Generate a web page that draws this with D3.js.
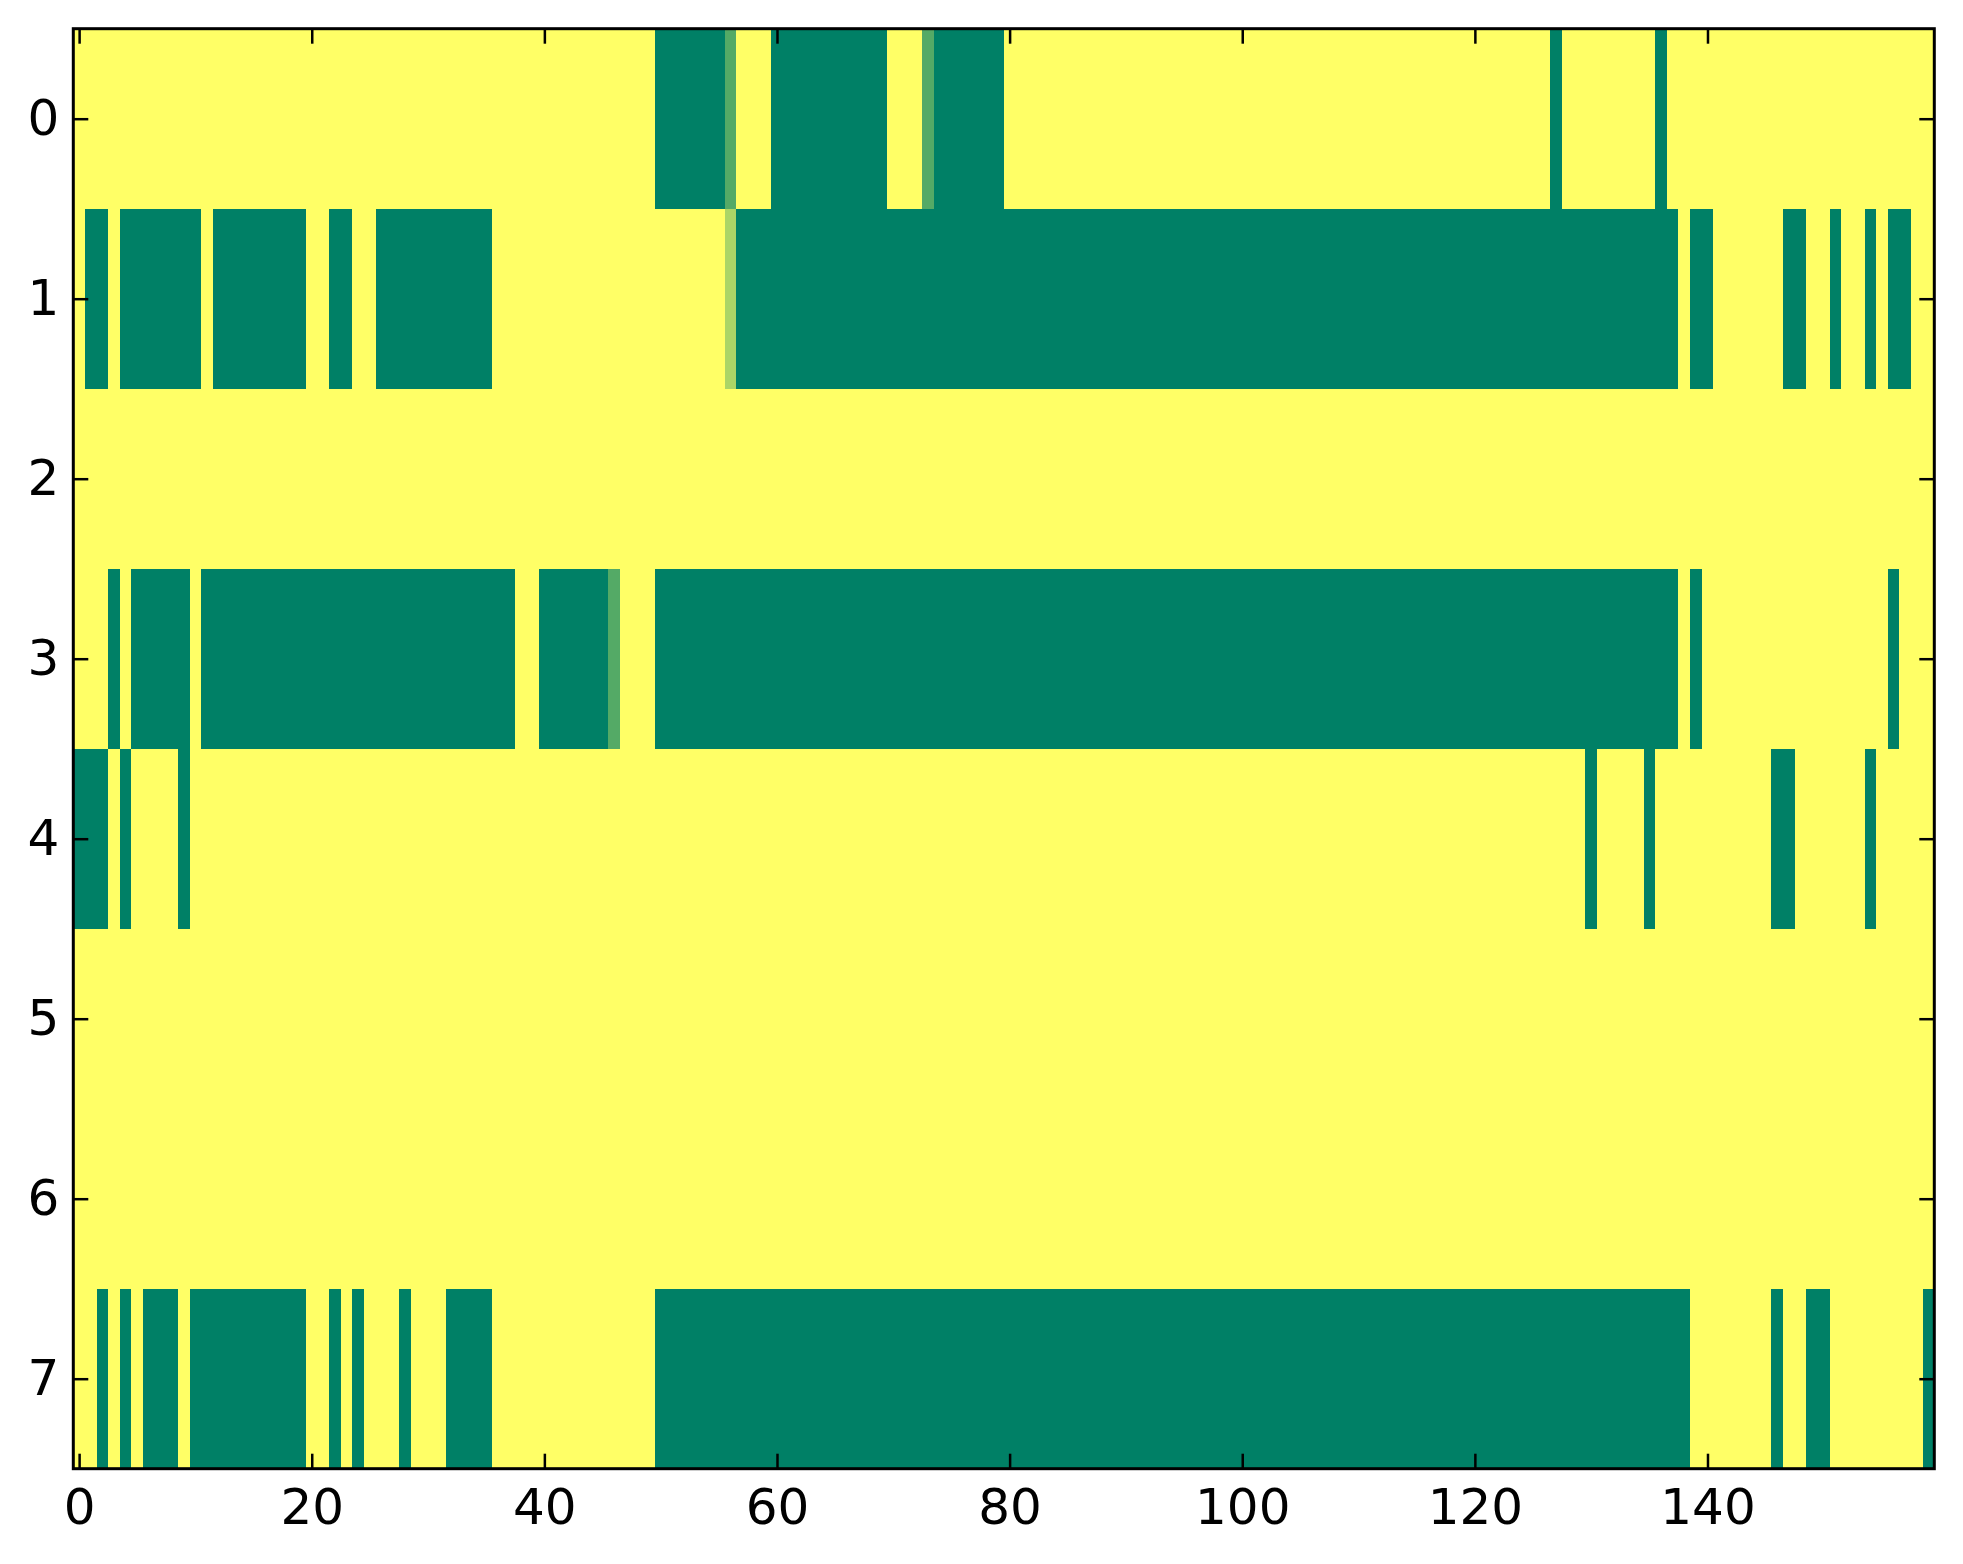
<!DOCTYPE html>
<html>
<head>
<meta charset="utf-8">
<script src="https://cdn.jsdelivr.net/npm/d3@7"></script>
<style>
  body { margin: 0; background: #fff; }
  .axis text { font-family: "DejaVu Sans", sans-serif; font-size: 50px; fill: #000; }
  .axis line { stroke: #000; stroke-width: 2.5; }
</style>
</head>
<body>
<div id="chart"></div>
<script>
// Data: one array per image row, 160 columns, 1 = yellow end, 0 = green end
const row0 = [
  1,1,1,1,1,1,1,1,1,1,1,1,1,1,1,1,1,1,1,1,
  1,1,1,1,1,1,1,1,1,1,1,1,1,1,1,1,1,1,1,1,
  1,1,1,1,1,1,1,1,1,1,0,0,0,0,0,0,0.33,1,1,1,
  0,0,0,0,0,0,0,0,0,0,1,1,1,0.33,0,0,0,0,0,0,
  1,1,1,1,1,1,1,1,1,1,1,1,1,1,1,1,1,1,1,1,
  1,1,1,1,1,1,1,1,1,1,1,1,1,1,1,1,1,1,1,1,
  1,1,1,1,1,1,1,0,1,1,1,1,1,1,1,1,0,1,1,1,
  1,1,1,1,1,1,1,1,1,1,1,1,1,1,1,1,1,1,1,1
];
const row1 = [
  1,0,0,1,0,0,0,0,0,0,0,1,0,0,0,0,0,0,0,0,
  1,1,0,0,1,1,0,0,0,0,0,0,0,0,0,0,1,1,1,1,
  1,1,1,1,1,1,1,1,1,1,1,1,1,1,1,1,0.67,0,0,0,
  0,0,0,0,0,0,0,0,0,0,0,0,0,0,0,0,0,0,0,0,
  0,0,0,0,0,0,0,0,0,0,0,0,0,0,0,0,0,0,0,0,
  0,0,0,0,0,0,0,0,0,0,0,0,0,0,0,0,0,0,0,0,
  0,0,0,0,0,0,0,0,0,0,0,0,0,0,0,0,0,0,1,0,
  0,1,1,1,1,1,1,0,0,1,1,0,1,1,0,1,0,0,1,1
];
const row2 = [
  1,1,1,1,1,1,1,1,1,1,1,1,1,1,1,1,1,1,1,1,
  1,1,1,1,1,1,1,1,1,1,1,1,1,1,1,1,1,1,1,1,
  1,1,1,1,1,1,1,1,1,1,1,1,1,1,1,1,1,1,1,1,
  1,1,1,1,1,1,1,1,1,1,1,1,1,1,1,1,1,1,1,1,
  1,1,1,1,1,1,1,1,1,1,1,1,1,1,1,1,1,1,1,1,
  1,1,1,1,1,1,1,1,1,1,1,1,1,1,1,1,1,1,1,1,
  1,1,1,1,1,1,1,1,1,1,1,1,1,1,1,1,1,1,1,1,
  1,1,1,1,1,1,1,1,1,1,1,1,1,1,1,1,1,1,1,1
];
const row3 = [
  1,1,1,0,1,0,0,0,0,0,1,0,0,0,0,0,0,0,0,0,
  0,0,0,0,0,0,0,0,0,0,0,0,0,0,0,0,0,0,1,1,
  0,0,0,0,0,0,0.33,1,1,1,0,0,0,0,0,0,0,0,0,0,
  0,0,0,0,0,0,0,0,0,0,0,0,0,0,0,0,0,0,0,0,
  0,0,0,0,0,0,0,0,0,0,0,0,0,0,0,0,0,0,0,0,
  0,0,0,0,0,0,0,0,0,0,0,0,0,0,0,0,0,0,0,0,
  0,0,0,0,0,0,0,0,0,0,0,0,0,0,0,0,0,0,1,0,
  1,1,1,1,1,1,1,1,1,1,1,1,1,1,1,1,0,1,1,1
];
const row4 = [
  0,0,0,1,0,1,1,1,1,0,1,1,1,1,1,1,1,1,1,1,
  1,1,1,1,1,1,1,1,1,1,1,1,1,1,1,1,1,1,1,1,
  1,1,1,1,1,1,1,1,1,1,1,1,1,1,1,1,1,1,1,1,
  1,1,1,1,1,1,1,1,1,1,1,1,1,1,1,1,1,1,1,1,
  1,1,1,1,1,1,1,1,1,1,1,1,1,1,1,1,1,1,1,1,
  1,1,1,1,1,1,1,1,1,1,1,1,1,1,1,1,1,1,1,1,
  1,1,1,1,1,1,1,1,1,1,0,1,1,1,1,0,1,1,1,1,
  1,1,1,1,1,1,0,0,1,1,1,1,1,1,0,1,1,1,1,1
];
const row5 = [
  1,1,1,1,1,1,1,1,1,1,1,1,1,1,1,1,1,1,1,1,
  1,1,1,1,1,1,1,1,1,1,1,1,1,1,1,1,1,1,1,1,
  1,1,1,1,1,1,1,1,1,1,1,1,1,1,1,1,1,1,1,1,
  1,1,1,1,1,1,1,1,1,1,1,1,1,1,1,1,1,1,1,1,
  1,1,1,1,1,1,1,1,1,1,1,1,1,1,1,1,1,1,1,1,
  1,1,1,1,1,1,1,1,1,1,1,1,1,1,1,1,1,1,1,1,
  1,1,1,1,1,1,1,1,1,1,1,1,1,1,1,1,1,1,1,1,
  1,1,1,1,1,1,1,1,1,1,1,1,1,1,1,1,1,1,1,1
];
const row6 = [
  1,1,1,1,1,1,1,1,1,1,1,1,1,1,1,1,1,1,1,1,
  1,1,1,1,1,1,1,1,1,1,1,1,1,1,1,1,1,1,1,1,
  1,1,1,1,1,1,1,1,1,1,1,1,1,1,1,1,1,1,1,1,
  1,1,1,1,1,1,1,1,1,1,1,1,1,1,1,1,1,1,1,1,
  1,1,1,1,1,1,1,1,1,1,1,1,1,1,1,1,1,1,1,1,
  1,1,1,1,1,1,1,1,1,1,1,1,1,1,1,1,1,1,1,1,
  1,1,1,1,1,1,1,1,1,1,1,1,1,1,1,1,1,1,1,1,
  1,1,1,1,1,1,1,1,1,1,1,1,1,1,1,1,1,1,1,1
];
const row7 = [
  1,1,0,1,0,1,0,0,0,1,0,0,0,0,0,0,0,0,0,0,
  1,1,0,1,0,1,1,1,0,1,1,1,0,0,0,0,1,1,1,1,
  1,1,1,1,1,1,1,1,1,1,0,0,0,0,0,0,0,0,0,0,
  0,0,0,0,0,0,0,0,0,0,0,0,0,0,0,0,0,0,0,0,
  0,0,0,0,0,0,0,0,0,0,0,0,0,0,0,0,0,0,0,0,
  0,0,0,0,0,0,0,0,0,0,0,0,0,0,0,0,0,0,0,0,
  0,0,0,0,0,0,0,0,0,0,0,0,0,0,0,0,0,0,0,1,
  1,1,1,1,1,1,0,1,1,0,0,1,1,1,1,1,1,1,1,0
];
const rows = [row0, row1, row2, row3, row4, row5, row6, row7];

const xTicks = [0, 20, 40, 60, 80, 100, 120, 140];
const yTicks = [0, 1, 2, 3, 4, 5, 6, 7];

function draw() {
    // Dimensions
    let dimensions = {
        width: 1963,
        height: 1564,
        left: 73.3,
        right: 1934.3,
        top: 28.7,
        bottom: 1468.7,
    }

    const nCols = row0.length;

    const cells = [];
    rows.forEach((r, i) => r.forEach((v, j) => cells.push({ row: i, col: j, value: v })));

    const svg = d3.select("#chart")
        .append("svg")
        .attr("width", dimensions.width)
        .attr("height", dimensions.height)

    const xScale = d3.scaleLinear()
        .domain([-0.5, nCols - 0.5])
        .range([dimensions.left, dimensions.right])

    const yScale = d3.scaleLinear()
        .domain([-0.5, rows.length - 0.5])
        .range([dimensions.top, dimensions.bottom])

    // summer colormap: linear from (0, .5, .4) to (1, 1, .4)
    const colorScale = d3.scaleLinear()
        .domain([0, 1])
        .range(["#008066", "#ffff66"])
        .interpolate(d3.interpolateRgb)

    // Cells
    svg.append("g")
        .attr("shape-rendering", "crispEdges")
        .selectAll("rect")
        .data(cells)
        .join("rect")
        .attr("x", (d) => xScale(d.col - 0.5))
        .attr("y", (d) => yScale(d.row - 0.5))
        .attr("width", (d) => xScale(d.col + 0.5) - xScale(d.col - 0.5) + 0.5)
        .attr("height", (d) => yScale(d.row + 0.5) - yScale(d.row - 0.5) + 0.5)
        .attr("fill", (d) => colorScale(d.value))

    // Axes (ticks pointing inward, on all four sides)
    const tickLen = 15;

    const xAxis = d3.axisBottom(xScale)
        .tickValues(xTicks)
        .tickSize(-tickLen)
        .tickPadding(20)
        .tickFormat(d3.format("d"));
    svg.append("g")
        .attr("class", "axis")
        .attr("transform", `translate(0, ${dimensions.bottom})`)
        .call(xAxis)
        .call((g) => g.select(".domain").remove())

    const xAxisTop = d3.axisTop(xScale)
        .tickValues(xTicks)
        .tickSize(-tickLen)
        .tickFormat("");
    svg.append("g")
        .attr("class", "axis")
        .attr("transform", `translate(0, ${dimensions.top})`)
        .call(xAxisTop)
        .call((g) => g.select(".domain").remove())

    const yAxis = d3.axisLeft(yScale)
        .tickValues(yTicks)
        .tickSize(-tickLen)
        .tickPadding(14)
        .tickFormat(d3.format("d"));
    svg.append("g")
        .attr("class", "axis")
        .attr("transform", `translate(${dimensions.left}, 0)`)
        .call(yAxis)
        .call((g) => g.select(".domain").remove())

    const yAxisRight = d3.axisRight(yScale)
        .tickValues(yTicks)
        .tickSize(-tickLen)
        .tickFormat("");
    svg.append("g")
        .attr("class", "axis")
        .attr("transform", `translate(${dimensions.right}, 0)`)
        .call(yAxisRight)
        .call((g) => g.select(".domain").remove())

    // Frame
    svg.append("rect")
        .attr("x", dimensions.left)
        .attr("y", dimensions.top)
        .attr("width", dimensions.right - dimensions.left)
        .attr("height", dimensions.bottom - dimensions.top)
        .attr("fill", "none")
        .attr("stroke", "#000")
        .attr("stroke-width", 3)
}

draw();
</script>
</body>
</html>
